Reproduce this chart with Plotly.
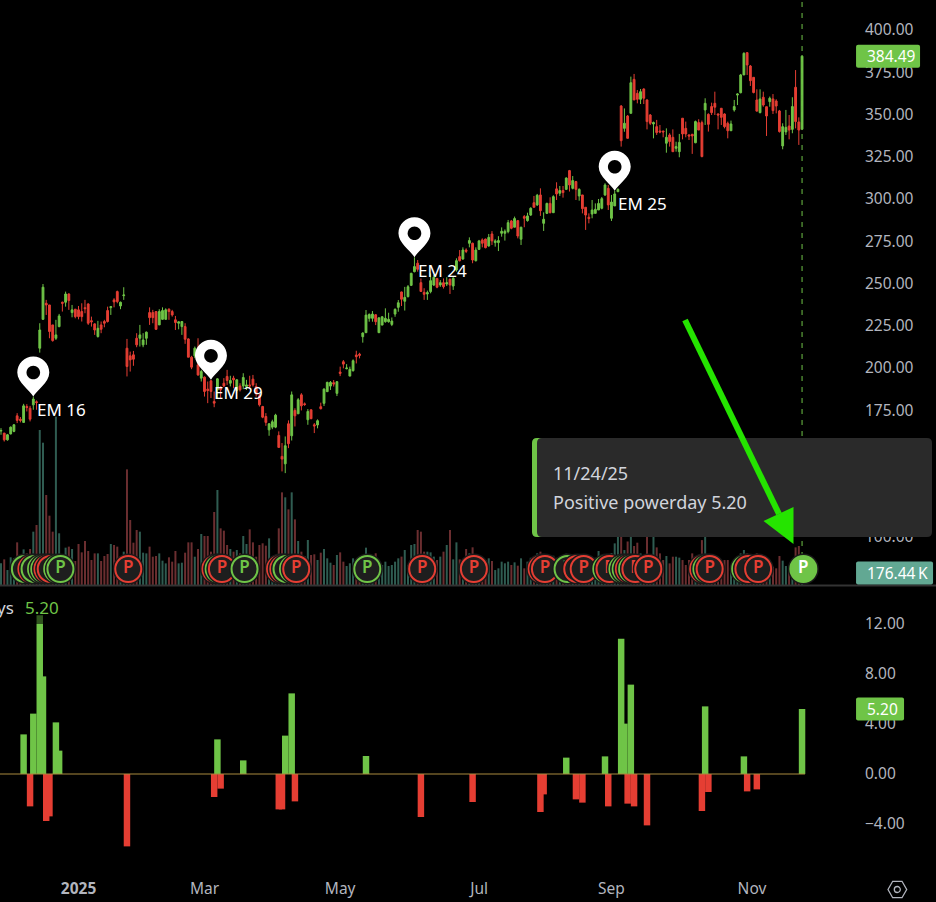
import plotly.graph_objects as go

WIDTH, HEIGHT = 936, 902
GREEN = "#6fc447"
RED = "#e53e33"
VOL_UP = "#2f5c51"
VOL_DOWN = "#6b2e30"
TEXT = "#b2b5be"
FONT = "Noto Sans"

opens = [
    162.7, 161.5, 157.5, 161, 162.5, 171.7, 169.7, 167.8, 177.2, 176.2, 178.2, 180, 211.7, 228.8, 238.3, 237.3, 225.5, 217.6, 224.5, 238.9,
    238.9, 243.8, 232.8, 234.8, 234.4, 233.4, 235.7, 237.9, 228, 226.1, 218.6, 225.5, 227.5, 234, 235.7, 240.3, 245.2, 236.7, 242.8, 211.7,
    207.2, 207.8, 217.6, 217.6, 213.7, 217.6, 232.8, 232.8, 233.4, 225.5, 228.8, 228.8, 234.8, 233.4, 228.5, 226.5, 224.5, 224.5, 217.2, 206.4,
    207.2, 201.9, 194, 194.6, 187.5, 192.4, 180.2, 187.1, 188.7, 191, 195, 191, 194, 186.7, 189.4, 189.4, 189, 190, 193.4, 189,
    183.5, 177.2, 171.3, 163.4, 165, 165, 160.1, 147.7, 143.3, 167, 159.9, 174.9, 172.9, 184.1, 178.8, 169.4, 175.3, 166.4, 166.3, 177.1,
    179.1, 186, 189.3, 191.3, 185, 197.6, 203.7, 199.6, 195.2, 198.4, 207.7, 208.2, 218.5, 220.9, 229.4, 229.4, 231.5, 220.9, 225.4, 227.4,
    227.4, 225.8, 231.9, 235.9, 245, 239.5, 242.2, 248.9, 257, 262, 250.5, 244.8, 243.8, 245.2, 249.1, 253, 249.1, 250.5, 249.7, 252.5,
    248.5, 258, 265.9, 264.5, 269.8, 273.8, 273.8, 263.5, 270.2, 275.8, 276.3, 272.2, 279.3, 274.2, 274.2, 279.7, 279.7, 280.7, 287, 283.3,
    287.2, 276.2, 289.6, 287.2, 290.5, 297.8, 296.5, 302.4, 285.6, 291.5, 297.4, 291.9, 306, 303.4, 305, 305.7, 316.8, 306.3, 310.3, 301.8,
    302.4, 295.1, 289.2, 291.1, 291.5, 293.5, 294.5, 302.4, 306.3, 288.6, 295.9, 304.3, 355, 341.8, 349.1, 350.7, 370.8, 362.5, 359, 365.1,
    358.6, 349.7, 344.4, 342.8, 340.2, 340.2, 333, 337.9, 336.5, 330, 328, 347.8, 341.8, 337.9, 338.3, 333.3, 345.2, 345.2, 352.7, 350.1,
    354.7, 356.6, 350.3, 353.7, 350.3, 344.8, 340.4, 352.7, 361.5, 362.9, 373.4, 386.6, 378.7, 372, 358.6, 351.1, 360.2, 354.6, 357.6, 359.2,
    358, 352.1, 331.4, 339.7, 343.2, 341.2, 366.1, 345.6, 341.3,
]
closes = [
    163, 157.5, 160.5, 165, 166.4, 169, 169, 177.6, 176.6, 169.7, 181.6, 179.6, 222.5, 247.8, 237.3, 221.6, 216.2, 219.6, 230.8, 238.3,
    243.8, 239.9, 234.4, 230.4, 230.4, 230.4, 235.1, 226.5, 227.3, 222.5, 223.5, 222.9, 226.5, 227.5, 236.3, 239.1, 239.3, 238.9, 243.2, 200.9,
    204.8, 205.2, 213.7, 219.6, 216.6, 221.2, 229.8, 229.8, 222.9, 233.4, 234, 234.4, 233.4, 231.4, 226.9, 227.3, 227.5, 217, 206.4, 200.5,
    211.7, 195.9, 197.9, 186.1, 186.7, 186.1, 179.2, 193.6, 187.1, 189.4, 192.6, 192.6, 193, 193, 187.1, 194.4, 190, 189.4, 190, 184.7,
    178.2, 170.9, 167.8, 167, 168.2, 172.1, 153, 146.1, 154, 155.2, 184.1, 171.7, 181.2, 177.6, 178.4, 174.3, 170, 165.7, 168.8, 175.9,
    187.5, 191.5, 191.5, 190.5, 191.9, 196.8, 202.3, 200, 199.2, 204.3, 206.7, 207.5, 220.7, 231.3, 231.7, 231.9, 227.4, 229.7, 230.3, 229.4,
    228.8, 227.8, 234.7, 238.6, 240.7, 241.8, 248.1, 256, 260, 258.4, 245.3, 243.6, 244.6, 251.7, 253.7, 247.8, 250.5, 248.1, 250.5, 249.1,
    253.1, 263.5, 263.5, 269.8, 269, 275.4, 263.9, 269.8, 275.2, 273.8, 271.2, 277.3, 275.2, 275.2, 275.4, 280.9, 280.9, 286, 282.7, 288.4,
    278.1, 283.3, 288.6, 290, 294.5, 295.1, 302.2, 293.1, 288, 297.4, 291.9, 301.4, 303, 305, 303.8, 312.4, 308.3, 310.9, 305.7, 305.7,
    294.3, 290.5, 288.4, 293.5, 293.9, 297.4, 300.2, 308.3, 296.5, 298.2, 303, 305.7, 334.5, 344.8, 335.9, 368.8, 358.6, 359, 363.5, 359.6,
    345.8, 344.8, 345.2, 339.3, 339.7, 339.7, 336.5, 334, 328, 331, 333.5, 338.5, 338.5, 337.3, 337.3, 345.8, 340.8, 325.1, 356.6, 344.2,
    351.1, 354.3, 349.7, 348.3, 342.8, 340.4, 344.4, 354.7, 362.1, 373.4, 386.2, 379.3, 370, 363, 352, 359.2, 355.6, 349.1, 359.6, 352.3,
    355, 339.9, 342.8, 342.4, 340.8, 354.7, 345.8, 340.8, 384.49,
]
highs = [
    164.4, 161.5, 161, 165.4, 166.8, 173.3, 171, 178.8, 178.6, 177.6, 183.1, 180.8, 226.5, 249.7, 240.3, 237.3, 225.5, 228.5, 232, 239.3,
    245.2, 244.2, 237.3, 234.8, 236.7, 238.3, 240.3, 238.3, 230.4, 226.5, 227.9, 227.5, 228.5, 236.3, 236.7, 241.3, 245.8, 239.3, 247.8, 217.2,
    209.7, 210.1, 220.6, 225.5, 220.6, 221.6, 235.9, 234.4, 233.4, 234.8, 235.9, 235.3, 235.3, 234.4, 230.8, 227.5, 227.5, 226.5, 217.6, 207.2,
    212.7, 217.6, 198.9, 195, 192, 193, 186.1, 194, 189.1, 194, 198.9, 195.4, 195.4, 193.4, 191, 196.9, 193, 195.4, 195.9, 191,
    185.1, 177.6, 173.3, 167.4, 169.4, 172.9, 162.5, 155.6, 159.5, 169, 186.1, 176.2, 182.2, 185.1, 179.6, 175.7, 175.3, 167.4, 169.6, 179.5,
    188, 191.9, 192.3, 192.9, 192.3, 200.8, 204.7, 202.3, 200.8, 205.1, 210.2, 209, 221.1, 234.3, 232.3, 233.7, 231.9, 229.9, 230.7, 235.3,
    232.7, 229.9, 235.3, 240.2, 245.2, 248, 249.1, 256.4, 265.5, 263.9, 253, 247.2, 245.8, 256, 255, 253, 252, 253, 253.7, 253,
    253.7, 264.9, 269.8, 271.4, 270.8, 277.3, 274.2, 271.4, 275.8, 276.7, 276.5, 279.3, 281, 276.2, 278, 283.2, 282, 287.6, 287.6, 289.6,
    287.6, 283.6, 290.5, 291.9, 295.1, 301.8, 303, 306.3, 292.1, 297.8, 301, 302.2, 309.9, 307.7, 307.7, 312.8, 317.2, 313.6, 310.7, 306.3,
    302.4, 295.1, 291.5, 299.4, 297.4, 300, 301.2, 309.3, 308.3, 302.4, 304.9, 306.3, 355.6, 353.6, 349.7, 372.4, 374, 364.5, 365.1, 365.5,
    359, 350.3, 345.8, 346.8, 343.8, 340.4, 341.8, 338.9, 341.2, 333.9, 338.5, 347.8, 345.8, 338.3, 338.5, 346.4, 347.2, 346.4, 359.6, 350.7,
    357, 363.5, 350.7, 353.7, 350.7, 345.8, 346.4, 358.6, 362.5, 374, 386.8, 386.8, 379.3, 372, 364.9, 364.9, 363.5, 354.6, 360.6, 362.1,
    359, 352.7, 344.8, 352.7, 349.7, 360.2, 376.3, 348.3, 385.2,
]
lows = [
    160.5, 156.5, 157, 160.7, 162, 167.4, 167.8, 167.8, 174.3, 168.4, 175.3, 175.3, 209.1, 228.5, 231.4, 217.6, 215.6, 216.6, 224.1, 233.4,
    236.3, 234.4, 230, 229.4, 228.8, 227.5, 232.4, 225.5, 224.5, 219.6, 218, 220.6, 224.1, 226.9, 231.4, 235.9, 238.3, 234.8, 240.3, 195,
    197.9, 201.3, 212.3, 212.7, 212.3, 213.7, 225.5, 226.5, 222.5, 225.5, 228.5, 228.5, 228.5, 230.4, 222.5, 222.9, 219.6, 214.3, 206.4, 199.3,
    205.8, 195.4, 192, 183.1, 179.2, 182.2, 176.8, 182.2, 182.2, 188.7, 190, 189.1, 188, 185.5, 186.1, 187.5, 187, 187.5, 189, 183.1,
    177.2, 170.3, 165.8, 159.9, 163.8, 164.4, 153, 138.8, 137.8, 152.6, 157.1, 165.4, 172.9, 174.9, 177.6, 166.4, 169.7, 161.5, 164.3, 175.5,
    177.5, 186, 187, 189, 183.4, 195.2, 199.8, 199.2, 195.2, 197.9, 202.7, 205.7, 215, 220.9, 227.4, 227.4, 225.4, 220.9, 225.4, 226.8,
    226.8, 224.8, 230.3, 233.3, 236.7, 234, 241.8, 248.5, 256.6, 257, 245, 240.3, 240.3, 244.2, 248.5, 247.2, 248, 247, 248.5, 243.8,
    246.2, 257, 263, 264, 268, 271.4, 262, 263, 269.8, 271.4, 270.8, 271.8, 272.8, 271.8, 269.2, 277.7, 275.4, 279.7, 282.1, 283.3,
    276.7, 272.8, 283.3, 286.6, 290, 295.1, 295.9, 290, 281.1, 291.1, 291.5, 291.9, 299.4, 301.8, 300.8, 305.3, 304.4, 305.7, 299.4, 299,
    291.5, 281.7, 285.6, 288.6, 291.5, 293.5, 293.9, 301.8, 293.5, 287, 295.9, 304.3, 331, 339.8, 335.9, 350.7, 358.6, 356.6, 356.2, 356.2,
    341.2, 343.8, 335.9, 337.9, 338.9, 336.5, 327.4, 331, 328, 328, 324.7, 335.3, 336.5, 334.9, 326.7, 333, 340.8, 324.7, 343.8, 339.9,
    349.7, 349.7, 341.2, 343.8, 341.8, 335.9, 340.4, 351.7, 355.6, 362.5, 373.4, 373.4, 366.9, 362.5, 351.7, 350.7, 354.6, 337.3, 354.6, 350.3,
    350.7, 339.3, 329.4, 337.9, 335.3, 338.9, 341.8, 332, 340.8,
]
# Share volume in thousands
volumes = [
    318, 377, 220, 407, 392, 627, 416, 524, 465, 529, 784, 882, 2279, 2092, 1323, 1019, 784, 2475, 760, 426,
    549, 564, 529, 353, 603, 480, 647, 500, 368, 465, 465, 353, 426, 456, 603, 588, 564, 416, 490, 1700,
    956, 622, 809, 784, 475, 465, 564, 416, 426, 465, 358, 318, 407, 343, 500, 318, 328, 475, 627, 627,
    416, 529, 750, 720, 720, 490, 1073, 1397, 833, 799, 588, 529, 490, 515, 465, 720, 603, 818, 627, 416,
    588, 613, 578, 686, 318, 416, 833, 1362, 1289, 1112, 1362, 965, 647, 490, 426, 662, 441, 451, 368, 475,
    529, 392, 328, 294, 441, 480, 343, 279, 319, 392, 319, 392, 416, 549, 441, 416, 466, 319, 294, 343,
    279, 294, 343, 392, 417, 515, 294, 588, 603, 809, 784, 490, 490, 480, 417, 368, 417, 490, 588, 809,
    377, 627, 377, 368, 529, 466, 554, 417, 392, 368, 368, 392, 353, 220, 245, 343, 319, 343, 294, 333,
    284, 392, 245, 343, 400, 426, 466, 490, 400, 440, 380, 430, 400, 360, 390, 460, 430, 370, 410, 350,
    380, 420, 390, 360, 400, 500, 420, 440, 400, 470, 612, 950, 760, 514, 640, 800, 573, 622, 465, 441,
    860, 430, 800, 553, 465, 367, 426, 318, 416, 416, 402, 367, 294, 367, 465, 318, 367, 660, 900, 367,
    270, 318, 367, 318, 367, 367, 270, 343, 416, 465, 515, 465, 416, 441, 465, 367, 318, 318, 245, 270,
    245, 426, 358, 279, 220, 367, 553, 573, 176.44,
]

powerday_bars = [
    7, 9, 10, 12, 13, 14, 15, 17, 18, 39, 66, 67, 68, 75, 86, 87, 88, 90, 91, 113, 130,
    146, 167, 168, 175, 178, 180, 187, 188, 192, 193, 194, 195, 196, 200, 217, 218, 219, 230, 231, 234, 248,
]
powerday_values = [
    3.17, -2.59, 4.83, 12.7, 7.81, -3.76, -3.39, 4.13, 1.87, -5.79, -1.84, 2.77, -1.17, 1.09, -2.83, -2.83, 3.07, 6.45, -2.19, 1.44, -3.44,
    -2.24, -3.04, -1.63, 1.31, -2.03, -2.29, 1.41, -2.59, 10.83, 4.03, -2.37, 7.15, -2.59, -4.11, -2.96, 5.41, -1.44, 1.41, -1.39, -1.23, 5.20,
]

pin_bars = [10, 65, 128, 190]
pin_labels = ["EM 16", "EM 29", "EM 24", "EM 25"]

month_bars = [24, 63, 105, 148, 189, 232.5]
month_labels = ["<b>2025</b>", "Mar", "May", "Jul", "Sep", "Nov"]
price_ticks = [100, 125, 150, 175, 200, 225, 250, 275, 300, 325, 350, 375, 400]
powerday_ticks = [-4, 0, 4, 8, 12]

bars = list(range(len(closes)))
last_bar = bars[-1]
MARKER_LEVEL = 235  # volume-axis height of the P badges
MARKER_NUDGE = 0.4  # badges sit slightly right of their bar


def fx(px):
    return px / WIDTH


def fy(py):
    return 1 - py / HEIGHT


def rounded(x0, y0, x1, y1, r, conv=lambda v: v, conv_y=lambda v: v):
    X, Y = conv, conv_y
    return (
        f"M {X(x0 + r)} {Y(y0)} L {X(x1 - r)} {Y(y0)} Q {X(x1)} {Y(y0)} {X(x1)} {Y(y0 + r)} "
        f"L {X(x1)} {Y(y1 - r)} Q {X(x1)} {Y(y1)} {X(x1 - r)} {Y(y1)} "
        f"L {X(x0 + r)} {Y(y1)} Q {X(x0)} {Y(y1)} {X(x0)} {Y(y1 - r)} "
        f"L {X(x0)} {Y(y0 + r)} Q {X(x0)} {Y(y0)} {X(x0 + r)} {Y(y0)} Z"
    )


fig = go.Figure()

# Volume columns under the candles
fig.add_trace(go.Bar(
    x=bars, y=volumes, width=0.62, xaxis="x", yaxis="y",
    marker=dict(color=[VOL_UP if c >= o else VOL_DOWN for o, c in zip(opens, closes)], line_width=0),
    hoverinfo="skip",
))

# Powerday badges, one trace each so later days stack over earlier ones
for bar, value in zip(powerday_bars, powerday_values):
    color = GREEN if value > 0 else RED
    is_last = bar == last_bar
    fig.add_trace(go.Scatter(
        x=[bar + MARKER_NUDGE], y=[MARKER_LEVEL], mode="markers", xaxis="x", yaxis="y",
        marker=dict(size=31, color="#1a1a1a", line_width=0), hoverinfo="skip",
    ))
    fig.add_trace(go.Scatter(
        x=[bar + MARKER_NUDGE], y=[MARKER_LEVEL], mode="markers+text", text=["P"], textposition="middle center",
        textfont=dict(family=FONT, size=17, weight=600, color="#ffffff" if is_last else color),
        xaxis="x", yaxis="y",
        marker=dict(size=26, color=GREEN if is_last else "#1e1e1e", line=dict(width=2, color=color)),
        hoverinfo="skip",
    ))

fig.add_trace(go.Candlestick(
    x=bars, open=opens, high=highs, low=lows, close=closes, xaxis="x", yaxis="y2",
    increasing=dict(line=dict(color=GREEN, width=1), fillcolor=GREEN),
    decreasing=dict(line=dict(color=RED, width=1), fillcolor=RED),
    whiskerwidth=0, hoverinfo="skip",
))

# Powerday oscillator pane
fig.add_trace(go.Bar(
    x=powerday_bars, y=powerday_values, width=2, xaxis="x2", yaxis="y3",
    marker=dict(color=[GREEN if v > 0 else RED for v in powerday_values], line_width=0),
    hoverinfo="skip",
))
fig.add_trace(go.Scatter(
    x=[-1, last_bar + 0.9], y=[0, 0], mode="lines", xaxis="x2", yaxis="y3",
    line=dict(color="#a98a3f", width=1), hoverinfo="skip",
))

shapes = [
    # crosshair on the latest bar
    dict(type="line", xref="x", yref="paper", x0=last_bar, x1=last_bar, y0=fy(568), y1=1,
         line=dict(color=GREEN, width=1, dash="5px,6px"), layer="below"),
    # pane separator
    dict(type="line", xref="paper", yref="paper", x0=0, x1=1, y0=fy(585.5), y1=fy(585.5),
         line=dict(color="#333333", width=2), layer="above"),
    # tooltip card
    dict(type="path", xref="paper", yref="paper", path=rounded(532, 438, 545, 537, 5, fx, fy),
         fillcolor=GREEN, line_width=0),
    dict(type="path", xref="paper", yref="paper", path=rounded(537, 438, 932, 537, 5, fx, fy),
         fillcolor="#2a2a2a", line_width=0),
    # pointing arrow
    dict(type="line", xref="paper", yref="paper", x0=fx(685), y0=fy(320), x1=fx(779), y1=fy(514),
         line=dict(color="#25e400", width=6)),
    dict(type="path", xref="paper", yref="paper",
         path=f"M {fx(793.5)} {fy(544)} L {fx(793.5)} {fy(507)} L {fx(763.5)} {fy(521)} Z",
         fillcolor="#25e400", line_width=0),
    # legend backing over the indicator pane
    dict(type="rect", xref="paper", yref="paper", x0=0, x1=fx(64), y0=fy(597), y1=fy(624),
         fillcolor="rgba(0,0,0,0.57)", line_width=0),
    # chart settings glyph
    dict(type="path", xref="paper", yref="paper",
         path=(f"M {fx(888)} {fy(889.5)} L {fx(892.7)} {fy(881.3)} L {fx(902)} {fy(881.3)} "
               f"L {fx(906.7)} {fy(889.5)} L {fx(902)} {fy(897.7)} L {fx(892.7)} {fy(897.7)} Z"),
         line=dict(color=TEXT, width=1.3), fillcolor="rgba(0,0,0,0)"),
    dict(type="circle", xref="paper", yref="paper", x0=fx(894.3), x1=fx(900.3), y0=fy(892.5), y1=fy(886.5),
         line=dict(color=TEXT, width=1.3)),
]

# Value badges on the price, volume and powerday scales, anchored to the last values
for anchor_y, yref, right, color in (
    (closes[-1], "y2", 118, GREEN),
    (volumes[-1], "y", 131, "#62a893"),
    (powerday_values[-1], "y3", 102, GREEN),
):
    shapes.append(dict(
        type="path", xref="x", yref=yref, xsizemode="pixel", ysizemode="pixel",
        xanchor=last_bar, yanchor=anchor_y, path=rounded(54, -11.5, right, 11.5, 2),
        fillcolor=color, line_width=0,
    ))

# Map pins above the earnings-month bars
pin_body = "M 0 0 C -3 6 -16 14 -16 24 C -16 32.8 -8.8 40 0 40 C 8.8 40 16 32.8 16 24 C 16 14 3 6 0 0 Z"
pin_hole = "M -6.8 24 C -6.8 20.2 -3.8 17.2 0 17.2 C 3.8 17.2 6.8 20.2 6.8 24 C 6.8 27.8 3.8 30.8 0 30.8 C -3.8 30.8 -6.8 27.8 -6.8 24 Z"
for bar in pin_bars:
    for path, fill in ((pin_body, "#ffffff"), (pin_hole, "#000000")):
        shapes.append(dict(type="path", xref="x", yref="y2", xsizemode="pixel", ysizemode="pixel",
                           xanchor=bar, yanchor=highs[bar], path=path, fillcolor=fill, line_width=0))

annotations = []
for bar, label in zip(pin_bars, pin_labels):
    annotations.append(dict(
        x=bar, y=highs[bar], xref="x", yref="y2", text=label, showarrow=False,
        xanchor="left", yanchor="middle", xshift=1.5, yshift=-13,
        font=dict(family=FONT, size=17, color="#ffffff"),
    ))

for value, yref, text in (
    (closes[-1], "y2", f"{closes[-1]:.2f}"),
    (volumes[-1], "y", f"{volumes[-1]:.2f}\u2009K"),
    (powerday_values[-1], "y3", f"{powerday_values[-1]:.2f}"),
):
    annotations.append(dict(
        x=last_bar, y=value, xref="x", yref=yref, text=text, showarrow=False,
        xanchor="left", yanchor="middle", xshift=63,
        font=dict(family=FONT, size=15.5, color="#ffffff"),
    ))

annotations += [
    dict(x=fx(551), y=fy(473), xref="paper", yref="paper", text="11/24/25", showarrow=False,
         xanchor="left", yanchor="middle", font=dict(family=FONT, size=18, color="#d1d4dc")),
    dict(x=fx(551), y=fy(501.5), xref="paper", yref="paper", text=f"Positive powerday {powerday_values[-1]:.2f}",
         showarrow=False, xanchor="left", yanchor="middle", font=dict(family=FONT, size=18, color="#d1d4dc")),
    dict(x=fx(16), y=fy(607), xref="paper", yref="paper", text="ys", showarrow=False,
         xanchor="right", yanchor="middle", font=dict(family=FONT, size=17, color="#d1d4dc")),
    dict(x=fx(23), y=fy(607), xref="paper", yref="paper", text=f"{powerday_values[-1]:.2f}", showarrow=False,
         xanchor="left", yanchor="middle", font=dict(family=FONT, size=17, color=GREEN)),
]

x_range = [-0.31, 289.47]
scale_pos = 864 / WIDTH
axis_font = dict(family=FONT, size=15.5, color=TEXT)

fig.update_layout(
    width=WIDTH, height=HEIGHT, margin=dict(l=0, r=0, t=0, b=0),
    paper_bgcolor="#000000", plot_bgcolor="#000000", showlegend=False,
    barmode="overlay", boxgap=0.2, shapes=shapes, annotations=annotations,
    xaxis=dict(domain=[0, 1], range=x_range, visible=False, rangeslider=dict(visible=False), anchor="y"),
    yaxis=dict(domain=[fy(585), 1], range=[0, 8600], visible=False, anchor="x"),
    yaxis2=dict(
        overlaying="y", side="right", anchor="free", position=scale_pos,
        range=[71.6, 417.75], tickmode="array", tickvals=price_ticks, tickformat=".2f",
        tickfont=axis_font, showgrid=False, zeroline=False, showline=False, ticks="",
    ),
    xaxis2=dict(
        domain=[0, 1], range=x_range, anchor="y3", tickmode="array", tickvals=month_bars,
        ticktext=month_labels, tickfont=axis_font, ticklabelstandoff=7,
        showgrid=False, zeroline=False, showline=False, ticks="",
    ),
    yaxis3=dict(
        domain=[fy(870), fy(587)], range=[-7.68, 14.96], side="right", anchor="free", position=scale_pos,
        tickmode="array", tickvals=powerday_ticks, tickformat=".2f", tickfont=axis_font,
        showgrid=False, zeroline=False, showline=False, ticks="",
    ),
)

fig.write_html("out.html")
